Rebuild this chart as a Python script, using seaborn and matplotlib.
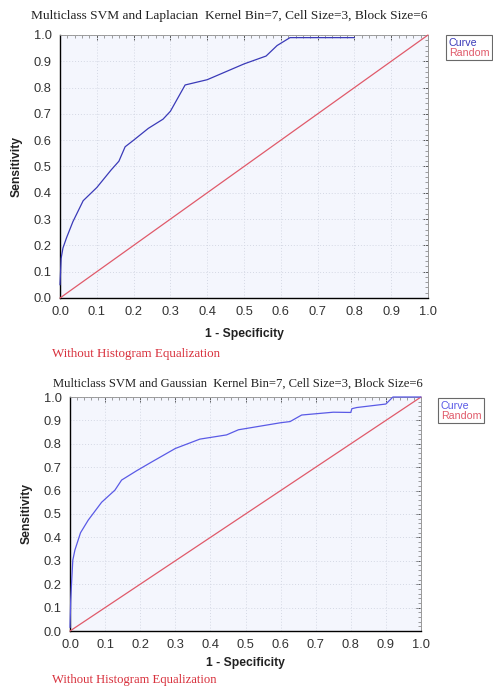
import matplotlib
matplotlib.use("Agg")
import matplotlib.pyplot as plt
from matplotlib.lines import Line2D
from matplotlib.ticker import MultipleLocator, NullFormatter
import seaborn as sns
import pandas as pd

# ---- data ----
lap_fpr = [0.0, 0.0, 0.0, 0.003, 0.008, 0.018, 0.035, 0.063, 0.10, 0.139, 0.16, 0.177,
           0.20, 0.24, 0.28, 0.30, 0.32, 0.34, 0.40, 0.45, 0.50, 0.56, 0.59, 0.625, 0.80]
lap_tpr = [0.0, 0.05, 0.10, 0.15, 0.19, 0.23, 0.29, 0.37, 0.42, 0.487, 0.52, 0.575,
           0.60, 0.645, 0.68, 0.71, 0.76, 0.81, 0.83, 0.86, 0.89, 0.92, 0.96, 0.99, 0.99]

gau_fpr = [0.0, 0.0, 0.002, 0.005, 0.008, 0.014, 0.03, 0.052, 0.09, 0.128, 0.147, 0.19,
           0.23, 0.30, 0.37, 0.446, 0.48, 0.56, 0.60, 0.627, 0.66, 0.75, 0.80, 0.803,
           0.817, 0.90, 0.92, 1.0]
gau_tpr = [0.0, 0.03, 0.13, 0.22, 0.303, 0.346, 0.42, 0.474, 0.55, 0.602, 0.645, 0.685,
           0.72, 0.78, 0.82, 0.838, 0.86, 0.88, 0.89, 0.895, 0.923, 0.935, 0.934, 0.95,
           0.955, 0.97, 1.0, 1.0]

random_x = [0.0, 1.0]
random_y = [0.0, 1.0]

titles = ["Multiclass SVM and Laplacian  Kernel Bin=7, Cell Size=3, Block Size=6",
          "Multiclass SVM and Gaussian  Kernel Bin=7, Cell Size=3, Block Size=6"]
note = "Without Histogram Equalization"
legend_labels = ["Curve", "Random"]
x_label = "1 - Specificity"
y_label = "Sensitivity"
ticks = [0.0, 0.1, 0.2, 0.3, 0.4, 0.5, 0.6, 0.7, 0.8, 0.9, 1.0]

sns.set_style("white")
plt.rcParams["font.family"] = ["Liberation Sans", "DejaVu Sans"]

W, H = 493, 689
fig = plt.figure(figsize=(W / 100, H / 100), dpi=100)
fig.patch.set_facecolor("white")


def px_axes(x0, x1, y0, y1):
    return fig.add_axes([x0 / W, 1 - y1 / H, (x1 - x0) / W, (y1 - y0) / H])


panels = [
    dict(box=(60, 428, 35, 298), fpr=lap_fpr, tpr=lap_tpr, curve="#3a3ab8",
         title_xy=(229, 16), note_xy=(52, 354), ylab_x=17,
         leg=(446, 35), xlab_y=334, tsize=9.6, nsize=9.4),
    dict(box=(70, 421, 397, 631), fpr=gau_fpr, tpr=gau_tpr, curve="#5a5ae6",
         title_xy=(238, 384), note_xy=(52, 680), ylab_x=27,
         leg=(438, 398), xlab_y=663, tsize=9.1, nsize=9.1),
]
red = "#e05a6a"

for i, p in enumerate(panels):
    ax = px_axes(*p["box"])
    ax.set_facecolor("#f4f6fd")
    df_c = pd.DataFrame({"x": p["fpr"], "y": p["tpr"]})
    df_r = pd.DataFrame({"x": random_x, "y": random_y})
    sns.lineplot(data=df_r, x="x", y="y", ax=ax, color=red, lw=0.9, sort=False,
                 zorder=3, clip_on=False)
    sns.lineplot(data=df_c, x="x", y="y", ax=ax, color=p["curve"], lw=0.9, sort=False,
                 zorder=3, clip_on=False)
    ax.set_xlim(0, 1)
    ax.set_ylim(0, 1)
    ax.set_xticks(ticks)
    ax.set_yticks(ticks)
    ax.set_xticklabels([f"{t:.1f}" for t in ticks])
    ax.set_yticklabels([f"{t:.1f}" for t in ticks])
    ax.xaxis.set_minor_locator(MultipleLocator(0.02))
    ax.yaxis.set_minor_locator(MultipleLocator(0.02))
    ax.grid(True, which="major", color="#d4d8e4", linestyle=(0, (1, 2)), lw=0.7)
    ax.tick_params(which="major", direction="inout", length=6, width=1.0,
                   labelsize=9.3, colors="black", labelcolor="#333333", pad=3,
                   top=False, right=False)
    ax.tick_params(which="minor", direction="inout", length=3.5, width=0.8,
                   top=False, right=False)
    # inward ticks on top and right edges
    sx = ax.secondary_xaxis("top")
    sy = ax.secondary_yaxis("right")
    for sec, axis in ((sx, sx.xaxis), (sy, sy.yaxis)):
        axis.set_major_locator(MultipleLocator(0.1))
        axis.set_minor_locator(MultipleLocator(0.02))
        axis.set_major_formatter(NullFormatter())
        sec.tick_params(which="major", direction="in", length=3.5, width=0.7,
                        colors="#555555")
        sec.tick_params(which="minor", direction="in", length=2, width=0.5,
                        colors="#777777")
        for s in sec.spines.values():
            s.set_color("#999999")
            s.set_linewidth(0.6)
    for s in ["left", "bottom"]:
        ax.spines[s].set_color("black")
        ax.spines[s].set_linewidth(1.0)
    for s in ["top", "right"]:
        ax.spines[s].set_color("#999999")
        ax.spines[s].set_linewidth(0.6)
    ax.set_xlabel("")
    ax.set_ylabel("")
    x0, x1, y0, y1 = p["box"]
    fig.text(((x0 + x1) / 2) / W, 1 - p["xlab_y"] / H, x_label, ha="center",
             va="center", fontsize=8.7, fontweight="bold", color="#222222")
    fig.text(p["ylab_x"] / W, 1 - ((y0 + y1) / 2) / H, y_label, ha="center",
             va="center", rotation=90, fontsize=8.7, fontweight="bold", color="#222222")
    fig.text(p["title_xy"][0] / W, 1 - p["title_xy"][1] / H, titles[i], ha="center",
             va="center", fontsize=p["tsize"], family=["Liberation Serif"],
             color="#222222")
    fig.text(p["note_xy"][0] / W, 1 - p["note_xy"][1] / H, note, ha="left",
             va="center", fontsize=p["nsize"], family=["Liberation Serif"],
             color="#d8303c")
    handles = [Line2D([], [], linestyle="none") for _ in legend_labels]
    leg = ax.legend(handles, legend_labels, loc="upper left",
                    bbox_to_anchor=(p["leg"][0] / W, 1 - p["leg"][1] / H),
                    bbox_transform=fig.transFigure, handlelength=0, handletextpad=0,
                    labelcolor=[p["curve"], red], fontsize=7.7, frameon=True,
                    fancybox=False, edgecolor="#444444", borderpad=0.25,
                    labelspacing=0.0, borderaxespad=0)
    leg.get_frame().set_linewidth(0.8)

fig.savefig("out.png", dpi=100, facecolor="white")
